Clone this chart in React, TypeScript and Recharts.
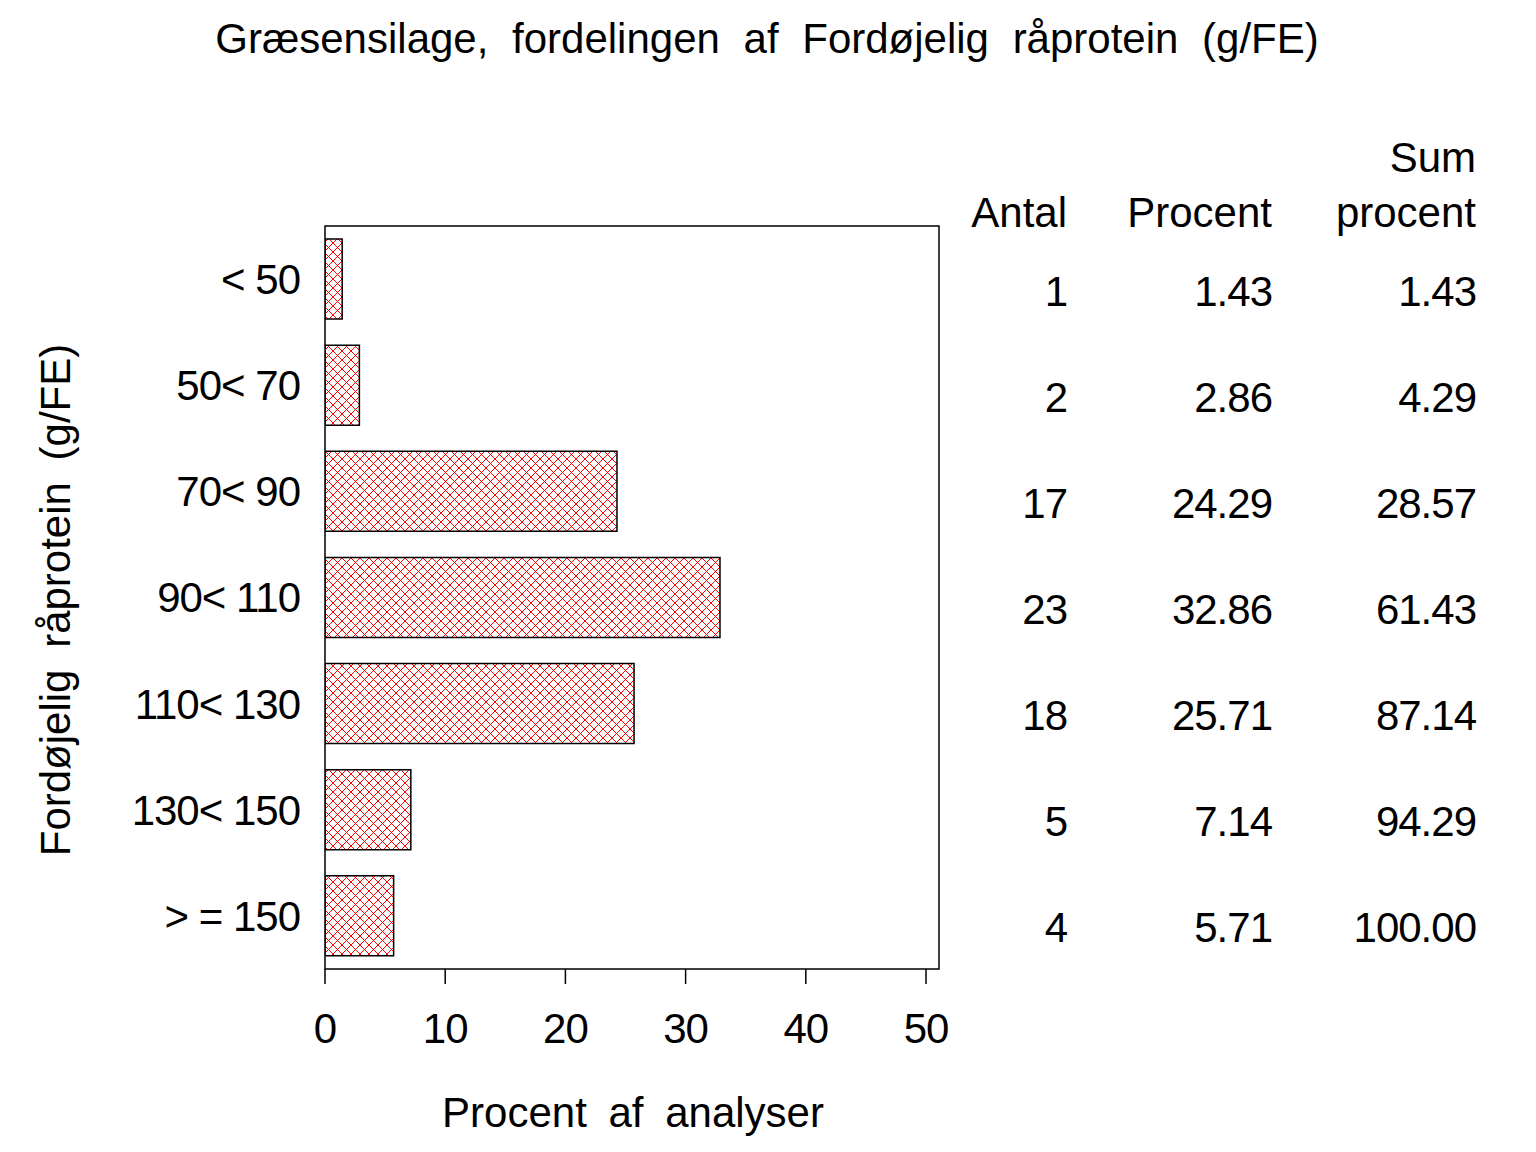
import React from 'react';
import { BarChart, Bar, XAxis, YAxis, ReferenceArea, LabelList } from 'recharts';

const categories = ['< 50', '50< 70', '70< 90', '90< 110', '110< 130', '130< 150', '> = 150'];
const antal = [1, 2, 17, 23, 18, 5, 4];
const procent = [1.43, 2.86, 24.29, 32.86, 25.71, 7.14, 5.71];
const sumProcent = [1.43, 4.29, 28.57, 61.43, 87.14, 94.29, 100.0];
const xTicks = [0, 10, 20, 30, 40, 50];
const xMax = 51.08;

const data = categories.map((cat, i) => ({
  cat,
  antal: antal[i],
  procent: procent[i],
  sum: sumProcent[i],
}));

const FONT = '"Liberation Sans", Arial, Helvetica, sans-serif';
const FS = 42;

const textStyle = { fontFamily: FONT, fontSize: FS, fill: '#000', letterSpacing: -1 };
const headStyle = { ...textStyle, letterSpacing: 0 };

// the little table to the right of the plot, one row per bar
const TableRow = (props: any) => {
  const { y, height, index } = props;
  const cy = y + height / 2 + 12;
  return (
    <g>
      <text x={1067} y={cy} textAnchor="end" dominantBaseline="central" style={textStyle}>
        {antal[index]}
      </text>
      <text x={1272} y={cy} textAnchor="end" dominantBaseline="central" style={textStyle}>
        {procent[index].toFixed(2)}
      </text>
      <text x={1476} y={cy} textAnchor="end" dominantBaseline="central" style={textStyle}>
        {sumProcent[index].toFixed(2)}
      </text>
    </g>
  );
};

export default function App() {
  return (
    <div style={{ position: 'absolute', left: 0, top: 0, background: '#fff' }}>
      <BarChart
        width={1536}
        height={1152}
        data={data}
        layout="vertical"
        margin={{ top: 226, right: 597, bottom: 0, left: 0 }}
      >
        <defs>
          <pattern id="hatch" width={9} height={9} patternUnits="userSpaceOnUse">
            <path d="M0,0 L9,9 M9,0 L0,9" stroke="#ff0000" strokeWidth={1} />
          </pattern>
        </defs>
        <XAxis
          type="number"
          domain={[0, xMax]}
          ticks={xTicks}
          allowDataOverflow
          height={183}
          axisLine={false}
          tickSize={15}
          tickMargin={29}
          tickLine={{ stroke: '#000', strokeWidth: 1.5 }}
          tick={textStyle}
        />
        <YAxis
          type="category"
          dataKey="cat"
          width={325}
          axisLine={false}
          tickLine={false}
          tickSize={0}
          tickMargin={25}
          tick={textStyle}
        />
        <ReferenceArea x1={0} x2={xMax} fill="none" stroke="#000" strokeWidth={1.5} />
        <Bar
          dataKey="procent"
          barSize={80}
          fill="url(#hatch)"
          stroke="#000"
          strokeWidth={1.5}
          isAnimationActive={false}
        >
          <LabelList dataKey="procent" content={TableRow} />
        </Bar>
        <text x={767} y={38} textAnchor="middle" dominantBaseline="central" style={{ ...headStyle, wordSpacing: 12 }}>
          Græsensilage, fordelingen af Fordøjelig råprotein (g/FE)
        </text>
        <text x={633} y={1112} textAnchor="middle" dominantBaseline="central" style={{ ...headStyle, wordSpacing: 10 }}>
          Procent af analyser
        </text>
        <text
          transform="translate(55,600) rotate(-90)"
          textAnchor="middle"
          dominantBaseline="central"
          style={{ ...headStyle, wordSpacing: 10 }}
        >
          Fordøjelig råprotein (g/FE)
        </text>
        <text x={1476} y={157} textAnchor="end" dominantBaseline="central" style={headStyle}>Sum</text>
        <text x={1067} y={212} textAnchor="end" dominantBaseline="central" style={headStyle}>Antal</text>
        <text x={1272} y={212} textAnchor="end" dominantBaseline="central" style={headStyle}>Procent</text>
        <text x={1476} y={212} textAnchor="end" dominantBaseline="central" style={headStyle}>procent</text>
      </BarChart>
    </div>
  );
}
